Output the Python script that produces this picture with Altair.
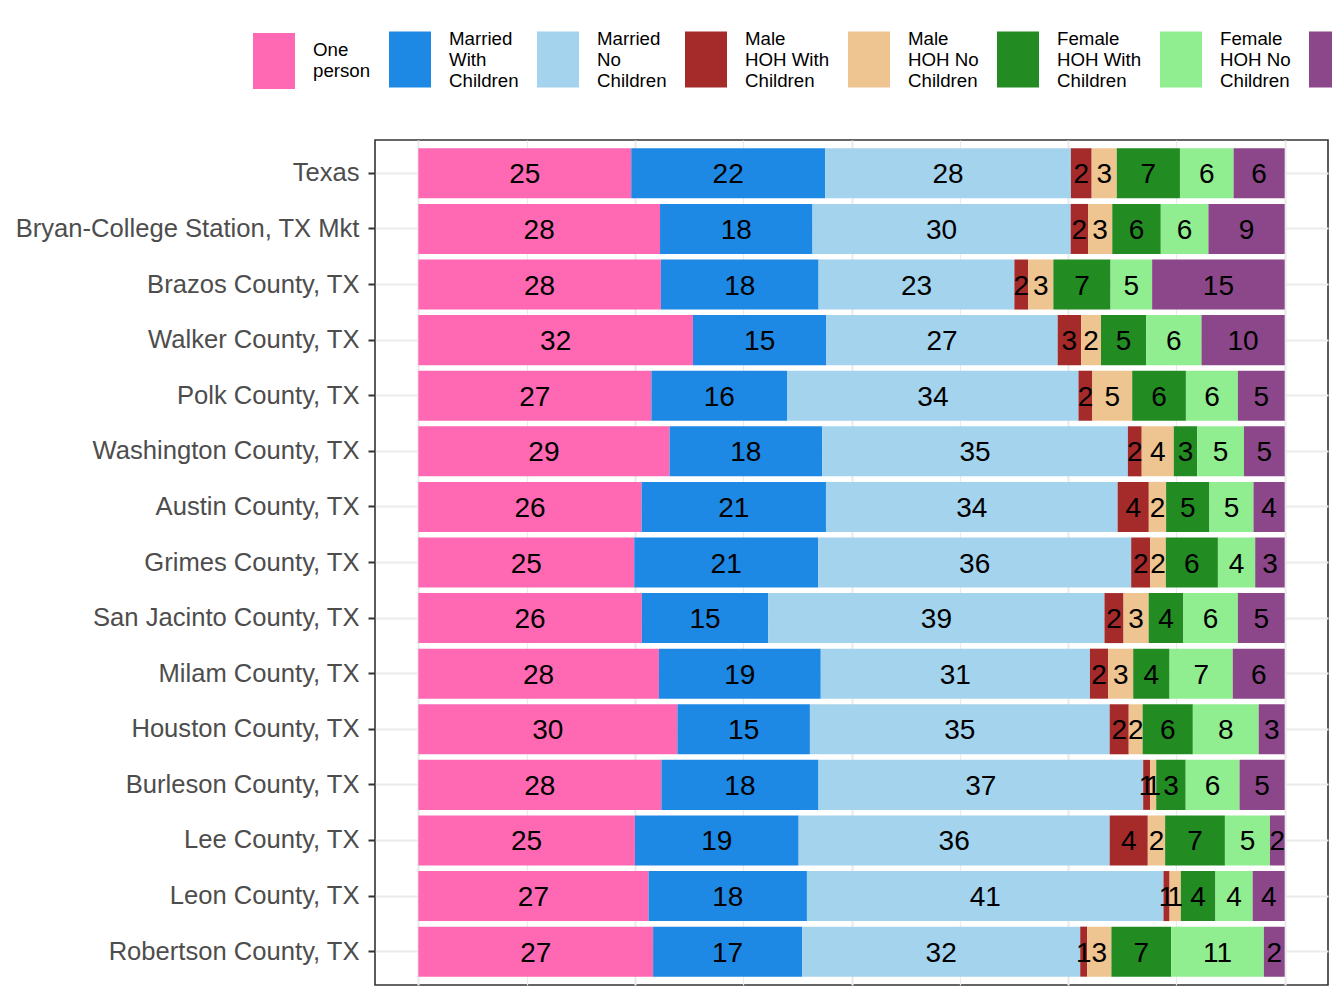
import altair as alt
import pandas as pd

areas = [
    "Texas", "Bryan-College Station, TX Mkt", "Brazos County, TX", "Walker County, TX",
    "Polk County, TX", "Washington County, TX", "Austin County, TX", "Grimes County, TX",
    "San Jacinto County, TX", "Milam County, TX", "Houston County, TX", "Burleson County, TX",
    "Lee County, TX", "Leon County, TX", "Robertson County, TX",
]
types = [
    "One|person", "Married|With|Children", "Married|No|Children", "Male|HOH With|Children",
    "Male|HOH No|Children", "Female|HOH With|Children", "Female|HOH No|Children", "Other|Non-|Family",
]
colors = ["#FF69B4", "#1E88E5", "#A4D3EE", "#A52A2A", "#EEC591", "#228B22", "#90EE90", "#8B4789"]

# percent of households by type (one entry per area, same order as `areas`)
one_person   = [24.6, 27.9, 28.0, 31.7, 26.9, 29.0, 25.8, 24.9, 25.8, 27.8, 29.9, 28.0, 25.0, 26.6, 27.1]
married_kids = [22.4, 17.6, 18.2, 15.4, 15.7, 17.6, 21.3, 21.2, 14.6, 18.7, 15.3, 18.1, 18.9, 18.3, 17.2]
married_none = [28.4, 29.8, 22.6, 26.7, 33.6, 35.3, 33.7, 36.1, 38.8, 31.1, 34.6, 37.4, 35.9, 41.2, 32.1]
male_kids    = [2.4, 2.0, 1.6, 2.7, 1.6, 1.6, 3.6, 2.2, 2.2, 2.1, 2.2, 0.8, 4.4, 0.7, 0.8]
male_none    = [2.9, 2.8, 2.9, 2.3, 4.6, 3.7, 2.0, 1.8, 2.9, 2.9, 1.6, 0.7, 2.0, 1.3, 2.8]
female_kids  = [7.3, 5.6, 6.6, 5.2, 6.2, 2.7, 5.0, 6.0, 4.0, 4.2, 5.8, 3.4, 6.9, 4.0, 6.9]
female_none  = [6.2, 5.5, 4.8, 6.4, 6.0, 5.4, 5.1, 4.3, 6.3, 7.3, 7.6, 6.2, 5.2, 4.3, 10.7]
other        = [5.9, 8.8, 15.3, 9.6, 5.4, 4.7, 3.6, 3.4, 5.4, 6.0, 3.0, 5.2, 1.7, 3.7, 2.4]

series = [one_person, married_kids, married_none, male_kids, male_none,
          female_kids, female_none, other]

rows = []
for ti, (t, vals) in enumerate(zip(types, series)):
    for a, v in zip(areas, vals):
        rows.append({"area": a, "type": t, "ord": ti, "val": v})
df = pd.DataFrame(rows)

FONT = "Liberation Sans"

base = alt.Chart(df).transform_stack(
    stack="val", groupby=["area"], as_=["v0", "v1"], offset="normalize",
    sort=[alt.SortField("ord", order="ascending")],
).transform_calculate(mid="(datum.v0 + datum.v1) / 2")

y_enc = alt.Y(
    "area:N", sort=areas, title=None,
    scale=alt.Scale(paddingInner=0.1, paddingOuter=0.15),
    axis=alt.Axis(
        labelFont=FONT, labelFontSize=25.6, labelColor="#4D4D4D", labelLimit=500,
        labelPadding=9, tickColor="#333333", tickSize=7, tickWidth=2,
        domain=False, grid=True, gridColor="#EBEBEB", gridWidth=2, bandPosition=0.5,
    ),
)
x_scale = alt.Scale(domain=[-0.05, 1.05], nice=False, zero=False)
x_axis = alt.Axis(
    labels=False, ticks=False, domain=False, title=None, grid=True,
    values=[i / 8 for i in range(9)], gridColor="#EBEBEB",
    gridWidth=alt.ConditionalAxisNumber(condition={"test": "datum.value % 0.25 == 0", "value": 2.2}, value=1.2),
)

legend = alt.Legend(
    orient="none", legendX=-129, legendY=-129, direction="horizontal", title=None,
    symbolType="M-0.75,-0.286H0.75V1.714H-0.75Z", symbolSize=3136, symbolStrokeWidth=0,
    symbolOpacity=1, labelExpr="split(datum.label, '|')", labelFont=FONT,
    labelFontSize=18.7, labelColor="#000000", labelOffset=11, columnPadding=11,
    labelLimit=400, padding=0,
    labelBaseline={"expr": "datum.value === 'One|person' ? 'top' : 'middle'"},
)

bars = base.mark_bar(opacity=1).encode(
    y=y_enc,
    x=alt.X("v0:Q", scale=x_scale, axis=x_axis, title=None),
    x2="v1:Q",
    color=alt.Color("type:N", scale=alt.Scale(domain=types, range=colors), legend=legend),
)

labels = base.mark_text(font=FONT, fontSize=28, color="#000000", align="center",
                        baseline="middle", dy=2).encode(
    y=alt.Y("area:N", sort=areas),
    x=alt.X("mid:Q", scale=x_scale),
    text=alt.Text("val:Q", format=".0f"),
)

chart = alt.layer(bars, labels).properties(
    width=953, height=845,
    autosize=alt.AutoSizeParams(type="none"),
    padding={"left": 367, "top": 132, "right": 4, "bottom": 10},
).configure_view(stroke="#333333", strokeWidth=1.6)

chart.save("out.html", embed_options={"renderer": "svg", "actions": False})
